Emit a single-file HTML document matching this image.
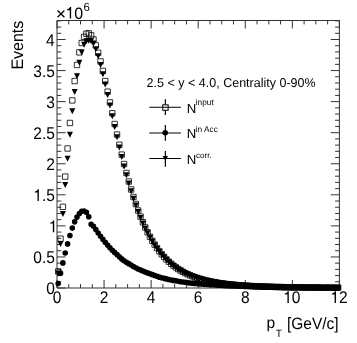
<!DOCTYPE html><html><head><meta charset="utf-8"><style>html,body{margin:0;padding:0;background:#fff;overflow:hidden}svg{display:block;filter:grayscale(1)}text{font-family:"Liberation Sans",sans-serif;text-rendering:geometricPrecision}</style></head><body>
<svg width="357" height="343" viewBox="0 0 357 343">
<rect width="357" height="343" fill="#fff"/>
<path d="M57.0 20.5H339.4V288.0H57.0Z" fill="none" stroke="#333" stroke-width="1"/>
<path d="M57.0 288.00h8.6M339.4 288.00h-8.6M57.0 281.79h4.3M339.4 281.79h-4.3M57.0 275.57h4.3M339.4 275.57h-4.3M57.0 269.36h4.3M339.4 269.36h-4.3M57.0 263.15h4.3M339.4 263.15h-4.3M57.0 256.94h8.6M339.4 256.94h-8.6M57.0 250.72h4.3M339.4 250.72h-4.3M57.0 244.51h4.3M339.4 244.51h-4.3M57.0 238.30h4.3M339.4 238.30h-4.3M57.0 232.09h4.3M339.4 232.09h-4.3M57.0 225.88h8.6M339.4 225.88h-8.6M57.0 219.66h4.3M339.4 219.66h-4.3M57.0 213.45h4.3M339.4 213.45h-4.3M57.0 207.24h4.3M339.4 207.24h-4.3M57.0 201.02h4.3M339.4 201.02h-4.3M57.0 194.81h8.6M339.4 194.81h-8.6M57.0 188.60h4.3M339.4 188.60h-4.3M57.0 182.39h4.3M339.4 182.39h-4.3M57.0 176.18h4.3M339.4 176.18h-4.3M57.0 169.96h4.3M339.4 169.96h-4.3M57.0 163.75h8.6M339.4 163.75h-8.6M57.0 157.54h4.3M339.4 157.54h-4.3M57.0 151.32h4.3M339.4 151.32h-4.3M57.0 145.11h4.3M339.4 145.11h-4.3M57.0 138.90h4.3M339.4 138.90h-4.3M57.0 132.69h8.6M339.4 132.69h-8.6M57.0 126.47h4.3M339.4 126.47h-4.3M57.0 120.26h4.3M339.4 120.26h-4.3M57.0 114.05h4.3M339.4 114.05h-4.3M57.0 107.84h4.3M339.4 107.84h-4.3M57.0 101.62h8.6M339.4 101.62h-8.6M57.0 95.41h4.3M339.4 95.41h-4.3M57.0 89.20h4.3M339.4 89.20h-4.3M57.0 82.99h4.3M339.4 82.99h-4.3M57.0 76.77h4.3M339.4 76.77h-4.3M57.0 70.56h8.6M339.4 70.56h-8.6M57.0 64.35h4.3M339.4 64.35h-4.3M57.0 58.14h4.3M339.4 58.14h-4.3M57.0 51.92h4.3M339.4 51.92h-4.3M57.0 45.71h4.3M339.4 45.71h-4.3M57.0 39.50h8.6M339.4 39.50h-8.6M57.0 33.29h4.3M339.4 33.29h-4.3M57.0 27.07h4.3M339.4 27.07h-4.3M57.0 20.86h4.3M339.4 20.86h-4.3M57.00 288.0v-8.0M57.00 20.5v8.0M68.77 288.0v-3.9M68.77 20.5v3.9M80.53 288.0v-3.9M80.53 20.5v3.9M92.30 288.0v-3.9M92.30 20.5v3.9M104.07 288.0v-8.0M104.07 20.5v8.0M115.83 288.0v-3.9M115.83 20.5v3.9M127.60 288.0v-3.9M127.60 20.5v3.9M139.37 288.0v-3.9M139.37 20.5v3.9M151.13 288.0v-8.0M151.13 20.5v8.0M162.90 288.0v-3.9M162.90 20.5v3.9M174.67 288.0v-3.9M174.67 20.5v3.9M186.43 288.0v-3.9M186.43 20.5v3.9M198.20 288.0v-8.0M198.20 20.5v8.0M209.97 288.0v-3.9M209.97 20.5v3.9M221.73 288.0v-3.9M221.73 20.5v3.9M233.50 288.0v-3.9M233.50 20.5v3.9M245.27 288.0v-8.0M245.27 20.5v8.0M257.03 288.0v-3.9M257.03 20.5v3.9M268.80 288.0v-3.9M268.80 20.5v3.9M280.57 288.0v-3.9M280.57 20.5v3.9M292.33 288.0v-8.0M292.33 20.5v8.0M304.10 288.0v-3.9M304.10 20.5v3.9M315.87 288.0v-3.9M315.87 20.5v3.9M327.63 288.0v-3.9M327.63 20.5v3.9M339.40 288.0v-8.0M339.40 20.5v8.0" fill="none" stroke="#333" stroke-width="1"/>
<path d="M55.48 268.74h5.40v5.40h-5.40zM57.83 235.94h5.40v5.40h-5.40zM60.18 204.13h5.40v5.40h-5.40zM62.54 173.90h5.40v5.40h-5.40zM64.89 145.80h5.40v5.40h-5.40zM67.24 120.28h5.40v5.40h-5.40zM69.60 97.71h5.40v5.40h-5.40zM71.95 78.33h5.40v5.40h-5.40zM74.30 62.30h5.40v5.40h-5.40zM76.66 49.65h5.40v5.40h-5.40zM79.01 40.33h5.40v5.40h-5.40zM81.36 34.19h5.40v5.40h-5.40zM83.72 31.04h5.40v5.40h-5.40zM86.07 30.62h5.40v5.40h-5.40zM88.42 32.63h5.40v5.40h-5.40zM90.78 36.77h5.40v5.40h-5.40zM93.13 42.71h5.40v5.40h-5.40zM95.48 50.13h5.40v5.40h-5.40zM97.84 58.73h5.40v5.40h-5.40zM100.19 68.24h5.40v5.40h-5.40zM102.54 78.39h5.40v5.40h-5.40zM104.90 88.96h5.40v5.40h-5.40zM107.25 99.74h5.40v5.40h-5.40zM109.60 110.58h5.40v5.40h-5.40zM111.96 121.31h5.40v5.40h-5.40zM114.31 131.84h5.40v5.40h-5.40zM116.66 142.06h5.40v5.40h-5.40zM119.02 151.91h5.40v5.40h-5.40zM121.37 161.34h5.40v5.40h-5.40zM123.72 170.30h5.40v5.40h-5.40zM126.08 178.79h5.40v5.40h-5.40zM128.43 186.78h5.40v5.40h-5.40zM130.78 194.28h5.40v5.40h-5.40zM133.14 201.30h5.40v5.40h-5.40zM135.49 207.84h5.40v5.40h-5.40zM137.84 213.92h5.40v5.40h-5.40zM140.20 219.56h5.40v5.40h-5.40zM142.55 224.78h5.40v5.40h-5.40zM144.90 229.60h5.40v5.40h-5.40zM147.26 234.06h5.40v5.40h-5.40zM149.61 238.16h5.40v5.40h-5.40zM151.96 241.94h5.40v5.40h-5.40zM154.32 245.42h5.40v5.40h-5.40zM156.67 248.61h5.40v5.40h-5.40zM159.02 251.55h5.40v5.40h-5.40zM161.38 254.24h5.40v5.40h-5.40zM163.73 256.72h5.40v5.40h-5.40zM166.08 258.98h5.40v5.40h-5.40zM168.44 261.07h5.40v5.40h-5.40zM170.79 262.97h5.40v5.40h-5.40zM173.14 264.72h5.40v5.40h-5.40zM175.50 266.33h5.40v5.40h-5.40zM177.85 267.80h5.40v5.40h-5.40zM180.20 269.15h5.40v5.40h-5.40zM182.56 270.39h5.40v5.40h-5.40zM184.91 271.53h5.40v5.40h-5.40zM187.26 272.57h5.40v5.40h-5.40zM189.62 273.53h5.40v5.40h-5.40zM191.97 274.41h5.40v5.40h-5.40zM194.32 275.22h5.40v5.40h-5.40zM196.68 275.97h5.40v5.40h-5.40zM199.03 276.65h5.40v5.40h-5.40zM201.38 277.28h5.40v5.40h-5.40zM203.74 277.86h5.40v5.40h-5.40zM206.09 278.39h5.40v5.40h-5.40zM208.44 278.89h5.40v5.40h-5.40zM210.80 279.34h5.40v5.40h-5.40zM213.15 279.76h5.40v5.40h-5.40zM215.50 280.14h5.40v5.40h-5.40zM217.86 280.50h5.40v5.40h-5.40zM220.21 280.83h5.40v5.40h-5.40zM222.56 281.13h5.40v5.40h-5.40zM224.92 281.41h5.40v5.40h-5.40zM227.27 281.67h5.40v5.40h-5.40zM229.62 281.91h5.40v5.40h-5.40zM231.98 282.14h5.40v5.40h-5.40zM234.33 282.34h5.40v5.40h-5.40zM236.68 282.54h5.40v5.40h-5.40zM239.04 282.71h5.40v5.40h-5.40zM241.39 282.88h5.40v5.40h-5.40zM243.74 283.03h5.40v5.40h-5.40zM246.10 283.18h5.40v5.40h-5.40zM248.45 283.31h5.40v5.40h-5.40zM250.80 283.43h5.40v5.40h-5.40zM253.16 283.55h5.40v5.40h-5.40zM255.51 283.65h5.40v5.40h-5.40zM257.86 283.75h5.40v5.40h-5.40zM260.22 283.85h5.40v5.40h-5.40zM262.57 283.93h5.40v5.40h-5.40zM264.92 284.01h5.40v5.40h-5.40zM267.28 284.09h5.40v5.40h-5.40zM269.63 284.16h5.40v5.40h-5.40zM271.98 284.22h5.40v5.40h-5.40zM274.34 284.29h5.40v5.40h-5.40zM276.69 284.34h5.40v5.40h-5.40zM279.04 284.40h5.40v5.40h-5.40zM281.40 284.45h5.40v5.40h-5.40zM283.75 284.50h5.40v5.40h-5.40zM286.10 284.54h5.40v5.40h-5.40zM288.46 284.58h5.40v5.40h-5.40zM290.81 284.62h5.40v5.40h-5.40zM293.16 284.66h5.40v5.40h-5.40zM295.52 284.69h5.40v5.40h-5.40zM297.87 284.72h5.40v5.40h-5.40zM300.22 284.75h5.40v5.40h-5.40zM302.58 284.78h5.40v5.40h-5.40zM304.93 284.81h5.40v5.40h-5.40zM307.28 284.83h5.40v5.40h-5.40zM309.64 284.86h5.40v5.40h-5.40zM311.99 284.88h5.40v5.40h-5.40zM314.34 284.90h5.40v5.40h-5.40zM316.70 284.92h5.40v5.40h-5.40zM319.05 284.94h5.40v5.40h-5.40zM321.40 284.96h5.40v5.40h-5.40zM323.76 284.98h5.40v5.40h-5.40zM326.11 284.99h5.40v5.40h-5.40zM328.46 285.01h5.40v5.40h-5.40zM330.82 285.02h5.40v5.40h-5.40zM333.17 285.03h5.40v5.40h-5.40zM335.52 285.05h5.40v5.40h-5.40z" fill="none" stroke="#000" stroke-width="0.8"/>
<path d="M55.38 283.59a2.8 2.8 0 1 0 5.60 0a2.8 2.8 0 1 0 -5.60 0zM57.73 273.15a2.8 2.8 0 1 0 5.60 0a2.8 2.8 0 1 0 -5.60 0zM60.08 262.90a2.8 2.8 0 1 0 5.60 0a2.8 2.8 0 1 0 -5.60 0zM62.44 253.02a2.8 2.8 0 1 0 5.60 0a2.8 2.8 0 1 0 -5.60 0zM64.79 243.89a2.8 2.8 0 1 0 5.60 0a2.8 2.8 0 1 0 -5.60 0zM67.14 235.44a2.8 2.8 0 1 0 5.60 0a2.8 2.8 0 1 0 -5.60 0zM69.50 228.11a2.8 2.8 0 1 0 5.60 0a2.8 2.8 0 1 0 -5.60 0zM71.85 221.84a2.8 2.8 0 1 0 5.60 0a2.8 2.8 0 1 0 -5.60 0zM74.20 217.12a2.8 2.8 0 1 0 5.60 0a2.8 2.8 0 1 0 -5.60 0zM76.56 213.45a2.8 2.8 0 1 0 5.60 0a2.8 2.8 0 1 0 -5.60 0zM78.91 211.28a2.8 2.8 0 1 0 5.60 0a2.8 2.8 0 1 0 -5.60 0zM81.26 210.97a2.8 2.8 0 1 0 5.60 0a2.8 2.8 0 1 0 -5.60 0zM83.62 212.33a2.8 2.8 0 1 0 5.60 0a2.8 2.8 0 1 0 -5.60 0zM85.97 216.80a2.8 2.8 0 1 0 5.60 0a2.8 2.8 0 1 0 -5.60 0zM88.32 224.26a2.8 2.8 0 1 0 5.60 0a2.8 2.8 0 1 0 -5.60 0zM90.68 226.18a2.8 2.8 0 1 0 5.60 0a2.8 2.8 0 1 0 -5.60 0zM93.03 229.56a2.8 2.8 0 1 0 5.60 0a2.8 2.8 0 1 0 -5.60 0zM95.38 233.11a2.8 2.8 0 1 0 5.60 0a2.8 2.8 0 1 0 -5.60 0zM97.74 236.36a2.8 2.8 0 1 0 5.60 0a2.8 2.8 0 1 0 -5.60 0zM100.09 239.33a2.8 2.8 0 1 0 5.60 0a2.8 2.8 0 1 0 -5.60 0zM102.44 242.29a2.8 2.8 0 1 0 5.60 0a2.8 2.8 0 1 0 -5.60 0zM104.80 245.08a2.8 2.8 0 1 0 5.60 0a2.8 2.8 0 1 0 -5.60 0zM107.15 247.70a2.8 2.8 0 1 0 5.60 0a2.8 2.8 0 1 0 -5.60 0zM109.50 250.23a2.8 2.8 0 1 0 5.60 0a2.8 2.8 0 1 0 -5.60 0zM111.86 252.39a2.8 2.8 0 1 0 5.60 0a2.8 2.8 0 1 0 -5.60 0zM114.21 254.56a2.8 2.8 0 1 0 5.60 0a2.8 2.8 0 1 0 -5.60 0zM116.56 256.73a2.8 2.8 0 1 0 5.60 0a2.8 2.8 0 1 0 -5.60 0zM118.92 258.90a2.8 2.8 0 1 0 5.60 0a2.8 2.8 0 1 0 -5.60 0zM121.27 260.84a2.8 2.8 0 1 0 5.60 0a2.8 2.8 0 1 0 -5.60 0zM123.62 262.26a2.8 2.8 0 1 0 5.60 0a2.8 2.8 0 1 0 -5.60 0zM125.98 263.67a2.8 2.8 0 1 0 5.60 0a2.8 2.8 0 1 0 -5.60 0zM128.33 265.09a2.8 2.8 0 1 0 5.60 0a2.8 2.8 0 1 0 -5.60 0zM130.68 266.51a2.8 2.8 0 1 0 5.60 0a2.8 2.8 0 1 0 -5.60 0zM133.04 267.84a2.8 2.8 0 1 0 5.60 0a2.8 2.8 0 1 0 -5.60 0zM135.39 268.99a2.8 2.8 0 1 0 5.60 0a2.8 2.8 0 1 0 -5.60 0zM137.74 270.11a2.8 2.8 0 1 0 5.60 0a2.8 2.8 0 1 0 -5.60 0zM140.10 271.03a2.8 2.8 0 1 0 5.60 0a2.8 2.8 0 1 0 -5.60 0zM142.45 271.95a2.8 2.8 0 1 0 5.60 0a2.8 2.8 0 1 0 -5.60 0zM144.80 272.88a2.8 2.8 0 1 0 5.60 0a2.8 2.8 0 1 0 -5.60 0zM147.16 273.80a2.8 2.8 0 1 0 5.60 0a2.8 2.8 0 1 0 -5.60 0zM149.51 274.64a2.8 2.8 0 1 0 5.60 0a2.8 2.8 0 1 0 -5.60 0zM151.86 275.47a2.8 2.8 0 1 0 5.60 0a2.8 2.8 0 1 0 -5.60 0zM154.22 276.31a2.8 2.8 0 1 0 5.60 0a2.8 2.8 0 1 0 -5.60 0zM156.57 277.14a2.8 2.8 0 1 0 5.60 0a2.8 2.8 0 1 0 -5.60 0zM158.92 277.80a2.8 2.8 0 1 0 5.60 0a2.8 2.8 0 1 0 -5.60 0zM161.28 278.35a2.8 2.8 0 1 0 5.60 0a2.8 2.8 0 1 0 -5.60 0zM163.63 278.91a2.8 2.8 0 1 0 5.60 0a2.8 2.8 0 1 0 -5.60 0zM165.98 279.47a2.8 2.8 0 1 0 5.60 0a2.8 2.8 0 1 0 -5.60 0zM168.34 279.97a2.8 2.8 0 1 0 5.60 0a2.8 2.8 0 1 0 -5.60 0zM170.69 280.41a2.8 2.8 0 1 0 5.60 0a2.8 2.8 0 1 0 -5.60 0zM173.04 280.84a2.8 2.8 0 1 0 5.60 0a2.8 2.8 0 1 0 -5.60 0zM175.40 281.27a2.8 2.8 0 1 0 5.60 0a2.8 2.8 0 1 0 -5.60 0zM177.75 281.69a2.8 2.8 0 1 0 5.60 0a2.8 2.8 0 1 0 -5.60 0zM180.10 282.00a2.8 2.8 0 1 0 5.60 0a2.8 2.8 0 1 0 -5.60 0zM182.46 282.32a2.8 2.8 0 1 0 5.60 0a2.8 2.8 0 1 0 -5.60 0zM184.81 282.63a2.8 2.8 0 1 0 5.60 0a2.8 2.8 0 1 0 -5.60 0zM187.16 282.94a2.8 2.8 0 1 0 5.60 0a2.8 2.8 0 1 0 -5.60 0zM189.52 283.17a2.8 2.8 0 1 0 5.60 0a2.8 2.8 0 1 0 -5.60 0zM191.87 283.39a2.8 2.8 0 1 0 5.60 0a2.8 2.8 0 1 0 -5.60 0zM194.22 283.61a2.8 2.8 0 1 0 5.60 0a2.8 2.8 0 1 0 -5.60 0zM196.58 283.83a2.8 2.8 0 1 0 5.60 0a2.8 2.8 0 1 0 -5.60 0zM198.93 284.02a2.8 2.8 0 1 0 5.60 0a2.8 2.8 0 1 0 -5.60 0zM201.28 284.19a2.8 2.8 0 1 0 5.60 0a2.8 2.8 0 1 0 -5.60 0zM203.64 284.36a2.8 2.8 0 1 0 5.60 0a2.8 2.8 0 1 0 -5.60 0zM205.99 284.53a2.8 2.8 0 1 0 5.60 0a2.8 2.8 0 1 0 -5.60 0zM208.34 284.69a2.8 2.8 0 1 0 5.60 0a2.8 2.8 0 1 0 -5.60 0zM210.70 284.84a2.8 2.8 0 1 0 5.60 0a2.8 2.8 0 1 0 -5.60 0zM213.05 284.99a2.8 2.8 0 1 0 5.60 0a2.8 2.8 0 1 0 -5.60 0zM215.40 285.13a2.8 2.8 0 1 0 5.60 0a2.8 2.8 0 1 0 -5.60 0zM217.76 285.28a2.8 2.8 0 1 0 5.60 0a2.8 2.8 0 1 0 -5.60 0zM220.11 285.43a2.8 2.8 0 1 0 5.60 0a2.8 2.8 0 1 0 -5.60 0zM222.46 285.58a2.8 2.8 0 1 0 5.60 0a2.8 2.8 0 1 0 -5.60 0zM224.82 285.73a2.8 2.8 0 1 0 5.60 0a2.8 2.8 0 1 0 -5.60 0zM227.17 285.87a2.8 2.8 0 1 0 5.60 0a2.8 2.8 0 1 0 -5.60 0zM229.52 285.96a2.8 2.8 0 1 0 5.60 0a2.8 2.8 0 1 0 -5.60 0zM231.88 286.03a2.8 2.8 0 1 0 5.60 0a2.8 2.8 0 1 0 -5.60 0zM234.23 286.11a2.8 2.8 0 1 0 5.60 0a2.8 2.8 0 1 0 -5.60 0zM236.58 286.18a2.8 2.8 0 1 0 5.60 0a2.8 2.8 0 1 0 -5.60 0zM238.94 286.26a2.8 2.8 0 1 0 5.60 0a2.8 2.8 0 1 0 -5.60 0zM241.29 286.33a2.8 2.8 0 1 0 5.60 0a2.8 2.8 0 1 0 -5.60 0zM243.64 286.41a2.8 2.8 0 1 0 5.60 0a2.8 2.8 0 1 0 -5.60 0zM246.00 286.48a2.8 2.8 0 1 0 5.60 0a2.8 2.8 0 1 0 -5.60 0zM248.35 286.56a2.8 2.8 0 1 0 5.60 0a2.8 2.8 0 1 0 -5.60 0zM250.70 286.63a2.8 2.8 0 1 0 5.60 0a2.8 2.8 0 1 0 -5.60 0zM253.06 286.71a2.8 2.8 0 1 0 5.60 0a2.8 2.8 0 1 0 -5.60 0zM255.41 286.78a2.8 2.8 0 1 0 5.60 0a2.8 2.8 0 1 0 -5.60 0zM257.76 286.86a2.8 2.8 0 1 0 5.60 0a2.8 2.8 0 1 0 -5.60 0zM260.12 286.92a2.8 2.8 0 1 0 5.60 0a2.8 2.8 0 1 0 -5.60 0zM262.47 286.99a2.8 2.8 0 1 0 5.60 0a2.8 2.8 0 1 0 -5.60 0zM264.82 287.05a2.8 2.8 0 1 0 5.60 0a2.8 2.8 0 1 0 -5.60 0zM267.18 287.10a2.8 2.8 0 1 0 5.60 0a2.8 2.8 0 1 0 -5.60 0zM269.53 287.16a2.8 2.8 0 1 0 5.60 0a2.8 2.8 0 1 0 -5.60 0zM271.88 287.20a2.8 2.8 0 1 0 5.60 0a2.8 2.8 0 1 0 -5.60 0zM274.24 287.25a2.8 2.8 0 1 0 5.60 0a2.8 2.8 0 1 0 -5.60 0zM276.59 287.29a2.8 2.8 0 1 0 5.60 0a2.8 2.8 0 1 0 -5.60 0zM278.94 287.33a2.8 2.8 0 1 0 5.60 0a2.8 2.8 0 1 0 -5.60 0zM281.30 287.37a2.8 2.8 0 1 0 5.60 0a2.8 2.8 0 1 0 -5.60 0zM283.65 287.40a2.8 2.8 0 1 0 5.60 0a2.8 2.8 0 1 0 -5.60 0zM286.00 287.44a2.8 2.8 0 1 0 5.60 0a2.8 2.8 0 1 0 -5.60 0zM288.36 287.47a2.8 2.8 0 1 0 5.60 0a2.8 2.8 0 1 0 -5.60 0zM290.71 287.50a2.8 2.8 0 1 0 5.60 0a2.8 2.8 0 1 0 -5.60 0zM293.06 287.52a2.8 2.8 0 1 0 5.60 0a2.8 2.8 0 1 0 -5.60 0zM295.42 287.55a2.8 2.8 0 1 0 5.60 0a2.8 2.8 0 1 0 -5.60 0zM297.77 287.57a2.8 2.8 0 1 0 5.60 0a2.8 2.8 0 1 0 -5.60 0zM300.12 287.60a2.8 2.8 0 1 0 5.60 0a2.8 2.8 0 1 0 -5.60 0zM302.48 287.62a2.8 2.8 0 1 0 5.60 0a2.8 2.8 0 1 0 -5.60 0zM304.83 287.64a2.8 2.8 0 1 0 5.60 0a2.8 2.8 0 1 0 -5.60 0zM307.18 287.66a2.8 2.8 0 1 0 5.60 0a2.8 2.8 0 1 0 -5.60 0zM309.54 287.67a2.8 2.8 0 1 0 5.60 0a2.8 2.8 0 1 0 -5.60 0zM311.89 287.69a2.8 2.8 0 1 0 5.60 0a2.8 2.8 0 1 0 -5.60 0zM314.24 287.71a2.8 2.8 0 1 0 5.60 0a2.8 2.8 0 1 0 -5.60 0zM316.60 287.72a2.8 2.8 0 1 0 5.60 0a2.8 2.8 0 1 0 -5.60 0zM318.95 287.73a2.8 2.8 0 1 0 5.60 0a2.8 2.8 0 1 0 -5.60 0zM321.30 287.75a2.8 2.8 0 1 0 5.60 0a2.8 2.8 0 1 0 -5.60 0zM323.66 287.76a2.8 2.8 0 1 0 5.60 0a2.8 2.8 0 1 0 -5.60 0zM326.01 287.77a2.8 2.8 0 1 0 5.60 0a2.8 2.8 0 1 0 -5.60 0zM328.36 287.78a2.8 2.8 0 1 0 5.60 0a2.8 2.8 0 1 0 -5.60 0zM330.72 287.79a2.8 2.8 0 1 0 5.60 0a2.8 2.8 0 1 0 -5.60 0zM333.07 287.80a2.8 2.8 0 1 0 5.60 0a2.8 2.8 0 1 0 -5.60 0zM335.42 287.81a2.8 2.8 0 1 0 5.60 0a2.8 2.8 0 1 0 -5.60 0z" fill="#000"/>
<path d="M55.18 270.42h6.00l-3.00 6.00zM57.53 241.07h6.00l-3.00 6.00zM59.88 210.89h6.00l-3.00 6.00zM62.24 181.95h6.00l-3.00 6.00zM64.59 155.68h6.00l-3.00 6.00zM66.94 131.70h6.00l-3.00 6.00zM69.30 108.29h6.00l-3.00 6.00zM71.65 89.00h6.00l-3.00 6.00zM74.00 73.15h6.00l-3.00 6.00zM76.36 59.72h6.00l-3.00 6.00zM78.71 49.58h6.00l-3.00 6.00zM81.06 41.68h6.00l-3.00 6.00zM83.42 38.37h6.00l-3.00 6.00zM85.77 37.71h6.00l-3.00 6.00zM88.12 38.15h6.00l-3.00 6.00zM90.48 40.45h6.00l-3.00 6.00zM92.83 46.17h6.00l-3.00 6.00zM95.18 53.36h6.00l-3.00 6.00zM97.54 61.92h6.00l-3.00 6.00zM99.89 71.36h6.00l-3.00 6.00zM102.24 81.43h6.00l-3.00 6.00zM104.60 91.90h6.00l-3.00 6.00zM106.95 102.58h6.00l-3.00 6.00zM109.30 113.30h6.00l-3.00 6.00zM111.66 123.91h6.00l-3.00 6.00zM114.01 134.31h6.00l-3.00 6.00zM116.36 144.40h6.00l-3.00 6.00zM118.72 154.12h6.00l-3.00 6.00zM121.07 163.39h6.00l-3.00 6.00zM123.42 172.19h6.00l-3.00 6.00zM125.78 180.51h6.00l-3.00 6.00zM128.13 188.35h6.00l-3.00 6.00zM130.48 195.71h6.00l-3.00 6.00zM132.84 202.59h6.00l-3.00 6.00zM135.19 209.01h6.00l-3.00 6.00zM137.54 214.97h6.00l-3.00 6.00zM139.90 220.50h6.00l-3.00 6.00zM142.25 225.63h6.00l-3.00 6.00zM144.60 230.36h6.00l-3.00 6.00zM146.96 234.73h6.00l-3.00 6.00zM149.31 238.76h6.00l-3.00 6.00zM151.66 242.47h6.00l-3.00 6.00zM154.02 245.88h6.00l-3.00 6.00zM156.37 249.01h6.00l-3.00 6.00zM158.72 251.89h6.00l-3.00 6.00zM161.08 254.53h6.00l-3.00 6.00zM163.43 256.96h6.00l-3.00 6.00zM165.78 259.18h6.00l-3.00 6.00zM168.14 261.23h6.00l-3.00 6.00zM170.49 263.10h6.00l-3.00 6.00zM172.84 264.81h6.00l-3.00 6.00zM175.20 266.39h6.00l-3.00 6.00zM177.55 267.83h6.00l-3.00 6.00zM179.90 269.16h6.00l-3.00 6.00zM182.26 270.37h6.00l-3.00 6.00zM184.61 271.49h6.00l-3.00 6.00zM186.96 272.52h6.00l-3.00 6.00zM189.32 273.46h6.00l-3.00 6.00zM191.67 274.32h6.00l-3.00 6.00zM194.02 275.11h6.00l-3.00 6.00zM196.38 275.84h6.00l-3.00 6.00zM198.73 276.51h6.00l-3.00 6.00zM201.08 277.13h6.00l-3.00 6.00zM203.44 277.70h6.00l-3.00 6.00zM205.79 278.22h6.00l-3.00 6.00zM208.14 278.71h6.00l-3.00 6.00zM210.50 279.15h6.00l-3.00 6.00zM212.85 279.56h6.00l-3.00 6.00zM215.20 279.94h6.00l-3.00 6.00zM217.56 280.29h6.00l-3.00 6.00zM219.91 280.61h6.00l-3.00 6.00zM222.26 280.91h6.00l-3.00 6.00zM224.62 281.19h6.00l-3.00 6.00zM226.97 281.44h6.00l-3.00 6.00zM229.32 281.68h6.00l-3.00 6.00zM231.68 281.90h6.00l-3.00 6.00zM234.03 282.10h6.00l-3.00 6.00zM236.38 282.29h6.00l-3.00 6.00zM238.74 282.46h6.00l-3.00 6.00zM241.09 282.63h6.00l-3.00 6.00zM243.44 282.78h6.00l-3.00 6.00zM245.80 282.92h6.00l-3.00 6.00zM248.15 283.05h6.00l-3.00 6.00zM250.50 283.17h6.00l-3.00 6.00zM252.86 283.28h6.00l-3.00 6.00zM255.21 283.38h6.00l-3.00 6.00zM257.56 283.48h6.00l-3.00 6.00zM259.92 283.57h6.00l-3.00 6.00zM262.27 283.66h6.00l-3.00 6.00zM264.62 283.74h6.00l-3.00 6.00zM266.98 283.81h6.00l-3.00 6.00zM269.33 283.88h6.00l-3.00 6.00zM271.68 283.94h6.00l-3.00 6.00zM274.04 284.01h6.00l-3.00 6.00zM276.39 284.06h6.00l-3.00 6.00zM278.74 284.11h6.00l-3.00 6.00zM281.10 284.16h6.00l-3.00 6.00zM283.45 284.21h6.00l-3.00 6.00zM285.80 284.25h6.00l-3.00 6.00zM288.16 284.29h6.00l-3.00 6.00zM290.51 284.33h6.00l-3.00 6.00zM292.86 284.37h6.00l-3.00 6.00zM295.22 284.40h6.00l-3.00 6.00zM297.57 284.43h6.00l-3.00 6.00zM299.92 284.46h6.00l-3.00 6.00zM302.28 284.49h6.00l-3.00 6.00zM304.63 284.52h6.00l-3.00 6.00zM306.98 284.54h6.00l-3.00 6.00zM309.34 284.57h6.00l-3.00 6.00zM311.69 284.59h6.00l-3.00 6.00zM314.04 284.61h6.00l-3.00 6.00zM316.40 284.63h6.00l-3.00 6.00zM318.75 284.65h6.00l-3.00 6.00zM321.10 284.67h6.00l-3.00 6.00zM323.46 284.68h6.00l-3.00 6.00zM325.81 284.70h6.00l-3.00 6.00zM328.16 284.71h6.00l-3.00 6.00zM330.52 284.73h6.00l-3.00 6.00zM332.87 284.74h6.00l-3.00 6.00zM335.22 284.75h6.00l-3.00 6.00z" fill="#000"/>
<text transform="translate(46.17,294.30) scale(0.97,1.06)" font-size="16">0</text>
<text transform="translate(33.28,263.24) scale(0.97,1.06)" font-size="16">0.5</text>
<text transform="translate(48.63,232.18) scale(0.97,1.06)" font-size="16">&#8199;</text>
<path transform="translate(48.63,232.18) scale(0.01552,-0.01696)" d="M359 0H272V505H101V566C196 570 262 602 281 692H359Z"/>
<text transform="translate(33.28,201.11) scale(0.97,1.06)" font-size="16">&#8199;.5</text>
<path transform="translate(33.28,201.11) scale(0.01552,-0.01696)" d="M359 0H272V505H101V566C196 570 262 602 281 692H359Z"/>
<text transform="translate(46.35,170.05) scale(0.97,1.06)" font-size="16">2</text>
<text transform="translate(33.28,138.99) scale(0.97,1.06)" font-size="16">2.5</text>
<text transform="translate(46.25,107.92) scale(0.97,1.06)" font-size="16">3</text>
<text transform="translate(33.28,76.86) scale(0.97,1.06)" font-size="16">3.5</text>
<text transform="translate(46.02,45.80) scale(0.97,1.06)" font-size="16">4</text>
<text transform="translate(52.68,303.00) scale(0.97,1.06)" font-size="16">0</text>
<text transform="translate(99.75,303.00) scale(0.97,1.06)" font-size="16">2</text>
<text transform="translate(146.87,303.00) scale(0.97,1.06)" font-size="16">4</text>
<text transform="translate(193.83,303.00) scale(0.97,1.06)" font-size="16">6</text>
<text transform="translate(240.95,303.00) scale(0.97,1.06)" font-size="16">8</text>
<text transform="translate(283.22,303.00) scale(0.97,1.06)" font-size="16">&#8199;0</text>
<path transform="translate(283.22,303.00) scale(0.01552,-0.01696)" d="M359 0H272V505H101V566C196 570 262 602 281 692H359Z"/>
<text transform="translate(330.38,303.00) scale(0.97,1.06)" font-size="16">&#8199;2</text>
<path transform="translate(330.38,303.00) scale(0.01552,-0.01696)" d="M359 0H272V505H101V566C196 570 262 602 281 692H359Z"/>
<path d="M57.5 10.5L64.4 17.2M64.4 10.5L57.5 17.2" stroke="#000" stroke-width="1.25" fill="none"/>
<text transform="translate(65.40,18.50) scale(1.0,1.03)" font-size="16.0">&#8199;0</text>
<path transform="translate(65.40,18.50) scale(0.01600,-0.01648)" d="M359 0H272V505H101V566C196 570 262 602 281 692H359Z"/>
<text transform="translate(83.40,10.80) scale(1.0,1.04)" font-size="11.4">6</text>
<text transform="translate(22.6,20.8) rotate(-90) scale(0.99,1.04)" font-size="16.1" text-anchor="end">Events</text>
<text transform="translate(266.60,328.40) scale(1.0,1.03)" font-size="15.5">p</text>
<text transform="translate(275.80,337.30) scale(1.0,1.05)" font-size="10.2">T</text>
<text transform="translate(286.90,328.60) scale(1.0,1.06)" font-size="15.5">[GeV/c]</text>
<text transform="translate(146.60,86.50) scale(1.01,1.03)" font-size="12.4">2.5 &lt; y &lt; 4.0, Centrality 0-90%</text>
<path d="M149.3 107.2H180.9M149.3 133.0H180.9M149.3 158.5H180.9" stroke="#000" stroke-width="1.1" fill="none"/>
<path d="M165.35 99.2V104.8M165.35 110.3V115.0" stroke="#000" stroke-width="1.2"/>
<path d="M165.35 125.0V140.8" stroke="#000" stroke-width="1.2"/>
<path d="M165.35 151.0V166.8" stroke="#000" stroke-width="1.2"/>
<rect x="162.75" y="104.85" width="5.4" height="5.4" fill="none" stroke="#000" stroke-width="1"/>
<circle cx="165.2" cy="132.75" r="2.8" fill="#000"/>
<path d="M162.5 155.9H168.1L165.3 160.6Z" fill="#000"/>
<text transform="translate(186.72,112.50) scale(1.0,1.0)" font-size="13.2">N</text>
<text transform="translate(195.74,105.20) scale(1.0,1.0)" font-size="8.3">input</text>
<text transform="translate(186.72,138.20) scale(1.0,1.0)" font-size="13.2">N</text>
<text transform="translate(195.74,132.00) scale(1.0,1.0)" font-size="8.3">in Acc</text>
<text transform="translate(186.72,163.60) scale(1.0,1.0)" font-size="13.2">N</text>
<text transform="translate(195.96,158.00) scale(1.0,1.0)" font-size="8.1">corr.</text>
</svg></body></html>
